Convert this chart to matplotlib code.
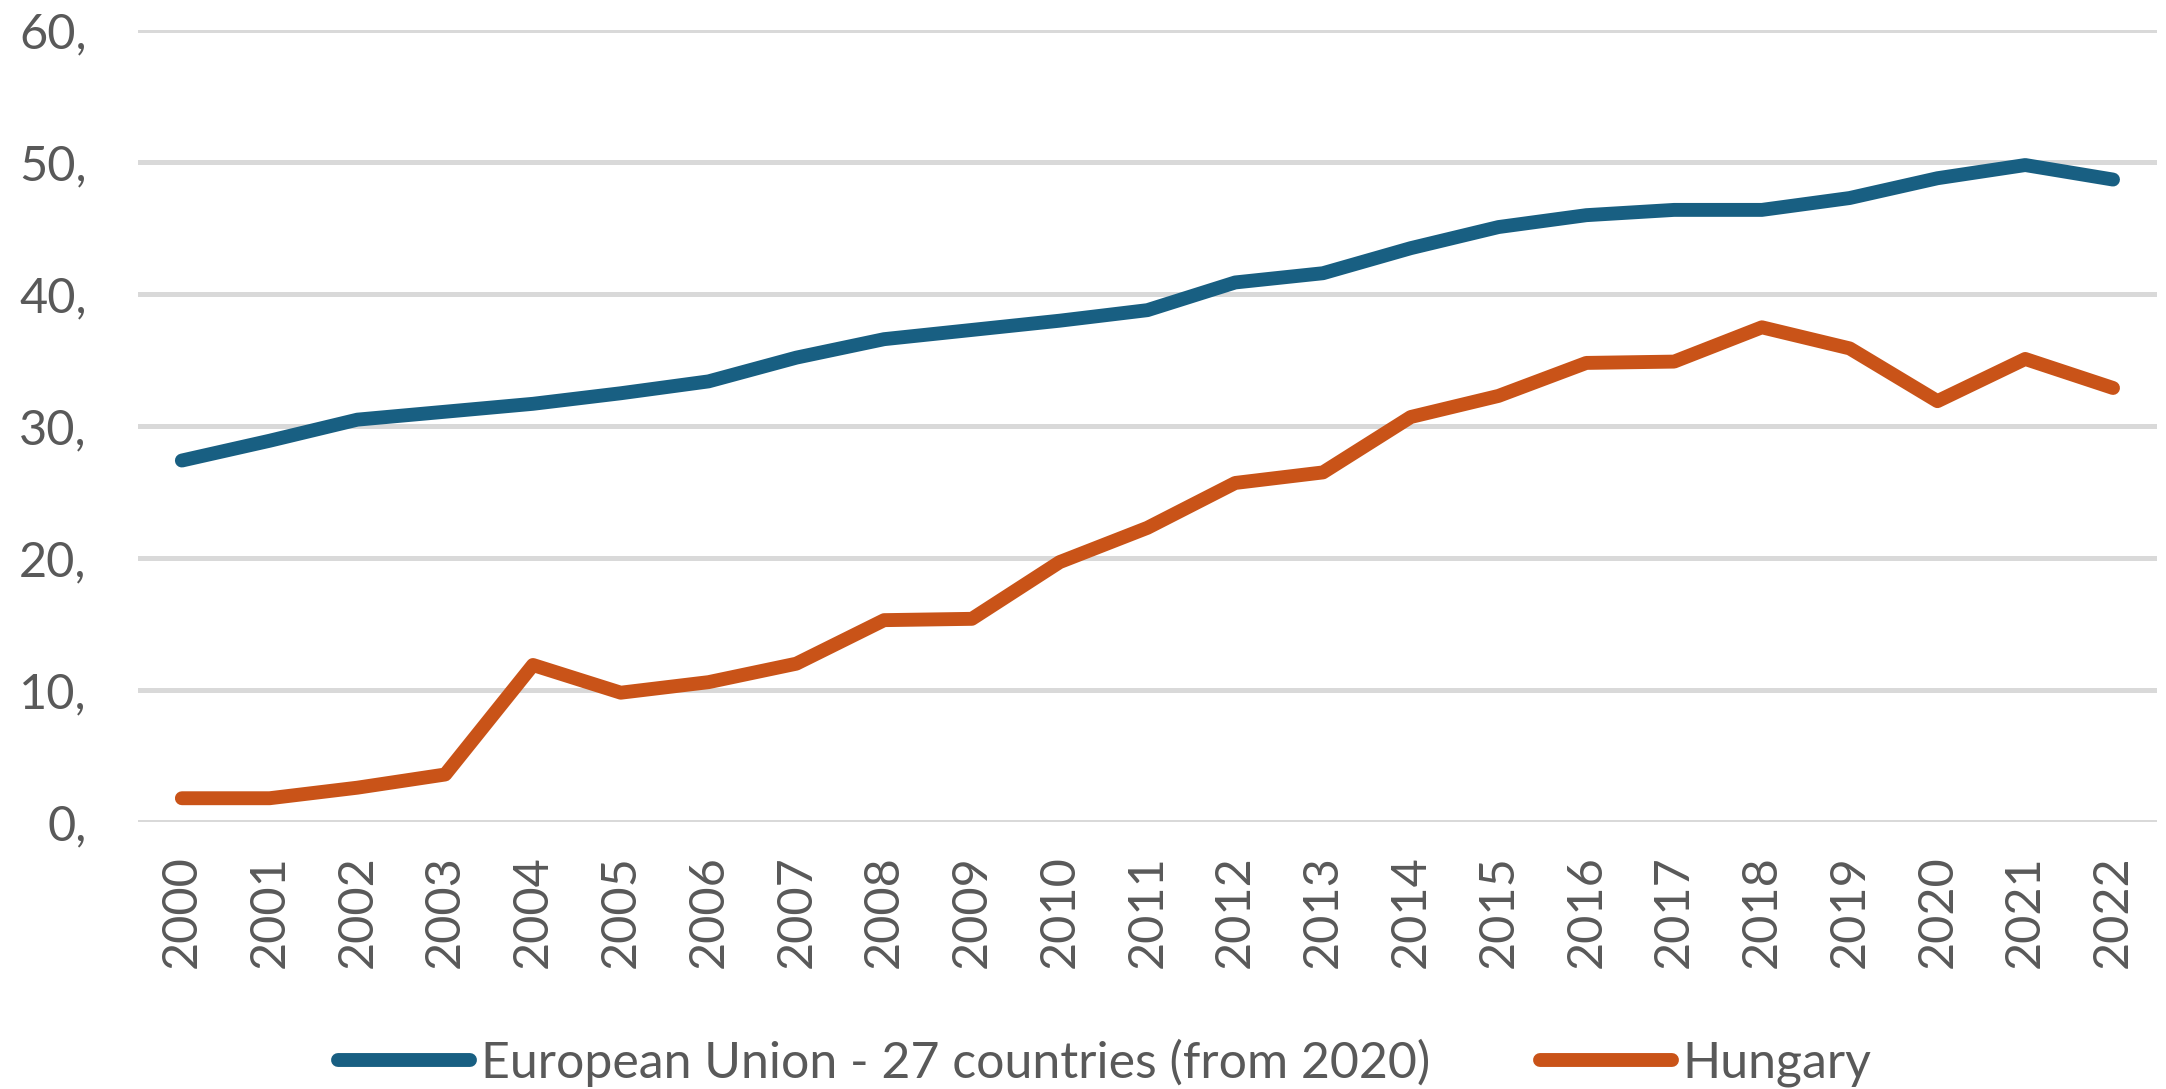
import matplotlib
matplotlib.use("Agg")
import matplotlib.pyplot as plt
import numpy as np

years = [str(y) for y in range(2000, 2023)]
eu = [27.4, 28.9, 30.5, 31.1, 31.7, 32.5, 33.4, 35.2, 36.6, 37.3, 38.0, 38.8,
      40.9, 41.6, 43.5, 45.1, 46.0, 46.4, 46.4, 47.3, 48.8, 49.8, 48.7]
hungary = [1.8, 1.8, 2.6, 3.6, 11.9, 9.8, 10.6, 12.0, 15.3, 15.4, 19.7, 22.3,
           25.7, 26.5, 30.7, 32.3, 34.8, 34.9, 37.5, 35.9, 31.9, 35.1, 32.9]
yticks = [0, 10, 20, 30, 40, 50, 60]
ytick_labels = ["0,", "10,", "20,", "30,", "40,", "50,", "60,"]
series_names = ["European Union - 27 countries (from 2020)", "Hungary"]

plt.rcParams['font.family'] = ['Lato', 'DejaVu Sans']
text_color = "#595959"

fig = plt.figure(figsize=(21.66, 10.89), dpi=100)
ax = fig.add_axes([0.0637, 0.2452, 0.9321, 0.7268])

x = np.arange(len(years))
ax.plot(x, eu, color="#185f82", lw=10, solid_capstyle="round", solid_joinstyle="round",
        label=series_names[0], zorder=3)
ax.plot(x, hungary, color="#c95318", lw=10, solid_capstyle="round", solid_joinstyle="round",
        label=series_names[1], zorder=3)

ax.set_xlim(-0.5, len(years) - 0.5)
ax.set_ylim(0, 60)
ax.set_yticks(yticks)
ax.set_yticklabels(ytick_labels)
ax.set_xticks(x)
ax.set_xticklabels(years, rotation=90)
ax.tick_params(axis="both", length=0, labelsize=35, labelcolor=text_color)
ax.tick_params(axis="y", pad=37)
ax.tick_params(axis="x", pad=24)
ax.grid(axis="y", color="#d9d9d9", lw=3.6, zorder=0)
ax.set_axisbelow(True)
for s in ax.spines.values():
    s.set_visible(False)

fig.legend(loc="center", bbox_to_anchor=(0.51, 0.024), ncol=2, frameon=False,
           fontsize=36, labelcolor=text_color, handlelength=2.64, handletextpad=0.22,
           columnspacing=2.2)

fig.savefig("out.png", dpi=100, facecolor="white")
